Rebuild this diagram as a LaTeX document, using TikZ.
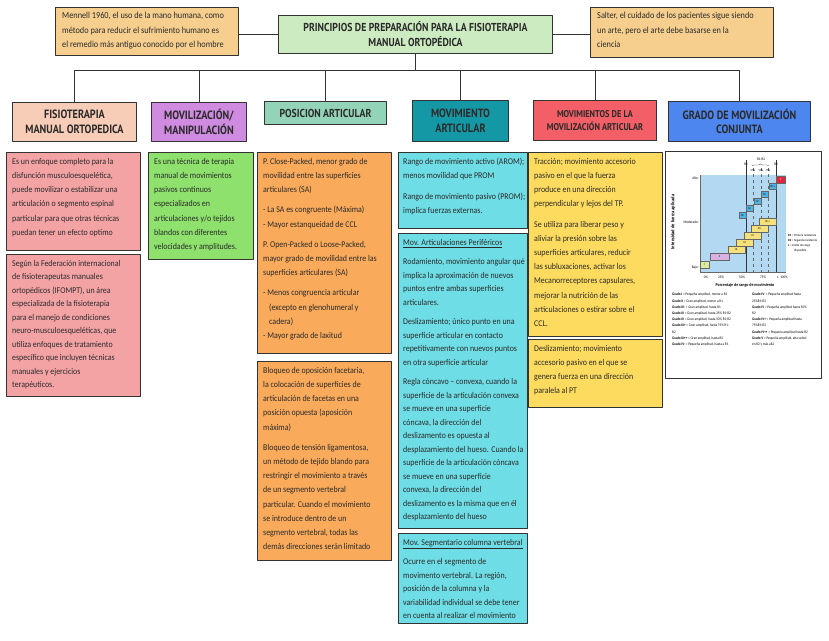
\documentclass[tikz,border=0pt]{standalone}
\usepackage{fontspec}
\setmainfont{Carlito}[FakeStretch=0.9]
\newfontfamily\headfont{PT Sans}[FakeStretch=0.85]
\usetikzlibrary{positioning,decorations.pathreplacing}
\definecolor{cQuote}{HTML}{F6CF8F}
\definecolor{cTitle}{HTML}{CDEBC0}
\definecolor{cHOne}{HTML}{F8CDB8}
\definecolor{cHTwo}{HTML}{CE8BDF}
\definecolor{cHThree}{HTML}{93D3B7}
\definecolor{cHFour}{HTML}{1598A6}
\definecolor{cHFive}{HTML}{F25F66}
\definecolor{cHSix}{HTML}{4E86F0}
\definecolor{cPink}{HTML}{F4A3A5}
\definecolor{cGreen}{HTML}{8DE16C}
\definecolor{cOrange}{HTML}{F9AA5B}
\definecolor{cCyan}{HTML}{6EDDE5}
\definecolor{cYellow}{HTML}{FDDB5E}
\definecolor{cLine}{HTML}{333333}
\definecolor{cInk}{HTML}{2A2A2A}
\definecolor{cChart}{HTML}{B3D8F2}
\definecolor{cStepBlue}{HTML}{4FB3E6}
\definecolor{cStepYel}{HTML}{F6E27A}
\definecolor{cStepRed}{HTML}{E5243B}
\definecolor{cStepLav}{HTML}{D9B2E3}
\definecolor{cStepLime}{HTML}{DCEA9E}

\begin{document}
\begin{tikzpicture}[x=1pt, y=-1pt, line join=round,
  box/.style={draw=cLine, line width=1pt, anchor=north west, inner sep=0pt},
  head/.style={box, align=center, text=cInk, font=\headfont\bfseries\fontsize{12}{14.5}\selectfont},
  txt/.style={anchor=north west, inner sep=0pt, align=left, text=cInk, font=\fontsize{8.8}{14.2}\selectfont},
  tighttxt/.style={txt, font=\fontsize{8.8}{13.5}\selectfont},
  qtxt/.style={txt, font=\fontsize{9.2}{14.5}\selectfont},
  link/.style={draw=cLine, line width=1pt},
  gbox/.style={draw=black!60, line width=0.3pt, anchor=north west, inner sep=0pt, font=\fontsize{3}{3}\selectfont},
  chartnote/.style={inner sep=0pt, align=left, text=black, font=\fontsize{3.7}{6.2}\selectfont}]
\useasboundingbox[fill=white] (0,0) rectangle (829,640);

\node[box, fill=cQuote, minimum width=183, minimum height=48] (lq) at (55,7) {};
\node[qtxt] (lqt) at ([shift={(7,5)}]lq.north west) {Mennell 1960, el uso de la mano humana, como\\método para reducir el sufrimiento humano es\\el remedio más antiguo conocido por el hombre};
\node[box, fill=cQuote, minimum width=183, minimum height=50] (rq) at (590,7) {};
\node[qtxt] (rqt) at ([shift={(7,5)}]rq.north west) {Salter, el cuidado de los pacientes sigue siendo\\un arte, pero el arte debe basarse en la\\ciencia};
\node[head, fill=cTitle, minimum width=274, minimum height=38, font=\headfont\bfseries\fontsize{11.5}{15}\selectfont] (title) at (278,15) {PRINCIPIOS DE PREPARACIÓN PARA LA FISIOTERAPIA\\MANUAL ORTOPÉDICA};

\node[head, fill=cHOne, minimum width=124, minimum height=39] (h1) at (12,102) {FISIOTERAPIA\\MANUAL ORTOPEDICA};
\node[head, fill=cHTwo, minimum width=95, minimum height=39, align=left] (h2) at (151,102) {MOVILIZACIÓN/\\MANIPULACIÓN};
\node[head, fill=cHThree, minimum width=122, minimum height=23, font=\headfont\bfseries\fontsize{11.5}{14}\selectfont] (h3) at (264,101) {POSICION ARTICULAR};
\node[head, fill=cHFour, minimum width=96, minimum height=41] (h4) at (412,100) {MOVIMIENTO\\ARTICULAR};
\node[head, fill=cHFive, minimum width=123, minimum height=40, font=\headfont\bfseries\fontsize{9.8}{13}\selectfont] (h5) at (533,100) {MOVIMIENTOS DE LA\\MOVILIZACIÓN ARTICULAR};
\node[head, fill=cHSix, minimum width=142, minimum height=40] (h6) at (668,101) {GRADO DE MOVILIZACIÓN\\CONJUNTA};

\draw[link] (lq.east |- title.west) -- (title.west);
\draw[link] (title.east) -- (title.east -| rq.west);
\foreach \h in {h1,h2,h3,h4,h5,h6}
  \draw[link] (title.south) -- ++(0,16) -| (\h.north);

\node[box, fill=cPink, minimum width=134, minimum height=98] (c1a) at (6,152) {};
\node[txt] (t1a) at ([shift={(6,6)}]c1a.north west) {Es un enfoque completo para la\\disfunción musculoesquelética,\\puede movilizar o estabilizar una\\articulación o segmento espinal\\particular para que otras técnicas\\puedan tener un efecto optimo};
\node[box, fill=cPink, minimum width=134, minimum height=142] (c1b) at (6,254) {};
\node[tighttxt] (t1b) at ([shift={(6,6)}]c1b.north west) {Según la Federación internacional\\de fisioterapeutas manuales\\ortopédicos (IFOMPT), un área\\especializada de la fisioterapia\\para el manejo de condiciones\\neuro-musculoesqueléticas, que\\utiliza enfoques de tratamiento\\específico que incluyen técnicas\\manuales y ejercicios\\terapéuticos.};

\node[box, fill=cGreen, minimum width=105, minimum height=107] (c2) at (148,152) {};
\node[txt] (t2) at ([shift={(6,6)}]c2.north west) {Es una técnica de terapia\\manual de movimientos\\pasivos continuos\\especializados en\\articulaciones y/o tejidos\\blandos con diferentes\\velocidades y amplitudes.};

\node[box, fill=cOrange, minimum width=134, minimum height=201] (c3a) at (257,152) {};
\node[txt] (t3a) at ([shift={(6,6)}]c3a.north west) {P. Close-Packed, menor grado de\\movilidad entre las superficies\\articulares (SA)\\[6pt]
- La SA es congruente (Máxima)\\- Mayor estanqueidad de CCL\\[6pt]
P. Open-Packed o Loose-Packed,\\mayor grado de movilidad entre las\\superficies articulares (SA)\\[6pt]
- Menos congruencia articular\\\hspace*{6pt}(excepto en glenohumeral y\\\hspace*{6pt}cadera)\\- Mayor grado de laxitud};
\node[box, fill=cOrange, minimum width=134, minimum height=199] (c3b) at (257,361) {};
\node[txt] (t3b) at ([shift={(6,6)}]c3b.north west) {Bloqueo de oposición facetaria,\\la colocación de superficies de\\articulación de facetas en una\\posición opuesta (aposición\\máxima)\\[6pt]
Bloqueo de tensión ligamentosa,\\un método de tejido blando para\\restringir el movimiento a través\\de un segmento vertebral\\particular. Cuando el movimiento\\se introduce dentro de un\\segmento vertebral, todas las\\demás direcciones serán limitado};

\node[box, fill=cCyan, minimum width=129, minimum height=76] (c4a) at (398,152) {};
\node[txt] (t4a) at ([shift={(5,6)}]c4a.north west) {Rango de movimiento activo (AROM);\\menos movilidad que PROM\\[6pt]
Rango de movimiento pasivo (PROM);\\implica fuerzas externas.};
\node[box, fill=cCyan, minimum width=129, minimum height=295] (c4b) at (398,233) {};
\node[tighttxt] (t4b) at ([shift={(5,6)}]c4b.north west) {\underline{Mov. Articulaciones Periféricos}\\[6pt]
Rodamiento, movimiento angular qué\\implica la aproximación de nuevos\\puntos entre ambas superficies\\articulares.\\[6pt]
Deslizamiento; único punto en una\\superficie articular en contacto\\repetitivamente con nuevos puntos\\en otra superficie articular\\[6pt]
Regla cóncavo – convexa, cuando la\\superficie de la articulación convexa\\se mueve en una superficie\\cóncava, la dirección del\\deslizamento es opuesta al\\desplazamiento del hueso. Cuando la\\superficie de la articulación cóncava\\se mueve en una superficie\\convexa, la dirección del\\deslizamento es la misma que en él\\desplazamiento del hueso};
\node[box, fill=cCyan, minimum width=129, minimum height=90] (c4c) at (398,533) {};
\node[tighttxt] (t4c) at ([shift={(5,6)}]c4c.north west) {\underline{Mov. Segmentario columna vertebral}\\[6pt]
Ocurre en el segmento de\\movimento vertebral. La región,\\posición de la columna y la\\variabilidad individual se debe tener\\en cuenta al realizar el movimiento};

\node[box, fill=cYellow, minimum width=134, minimum height=184] (c5a) at (528,152) {};
\node[txt] (t5a) at ([shift={(6,6)}]c5a.north west) {Tracción; movimiento accesorio\\pasivo en el que la fuerza\\produce en una dirección\\perpendicular y lejos del TP.\\[6pt]
Se utiliza para liberar peso y\\aliviar la presión sobre las\\superficies articulares, reducir\\las subluxaciones, activar los\\Mecanorreceptores capsulares,\\mejorar la nutrición de las\\articulaciones o estirar sobre el\\CCL.};
\node[box, fill=cYellow, minimum width=134, minimum height=68] (c5b) at (528,339) {};
\node[txt] (t5b) at ([shift={(6,6)}]c5b.north west) {Deslizamiento; movimiento\\accesorio pasivo en el que se\\genera fuerza en una dirección\\paralela al PT};

\node[box, fill=white, minimum width=156, minimum height=227] (c6) at (665,151) {};
\fill[cChart] (700,175) rectangle (786,272);
\draw[black!60, line width=0.3pt] (700,175) -- (700,272) -- (786,272);
\draw[black!80, line width=0.7pt] (746,160) -- (746,272);
\draw[black!80, line width=0.7pt] (776,160) -- (776,272);
\foreach \x in {753,761,768}
  \draw[black!60, line width=0.3pt, dashed] (\x,168) -- (\x,272);
\draw[black!70, line width=0.3pt, decorate, decoration={brace, amplitude=2pt}] (752,166) -- (769,166);
\node[chartnote] (r1) at (746,164) {R1};
\node[chartnote] (r2) at (776,164) {R2};
\node[chartnote] (r12) at (761,159) {R1-R2};
\foreach \x/\t in {753/25\%,761/50\%,768/75\%}
  \node[chartnote, font=\fontsize{3}{3}\selectfont] at (\x,170) {\t};
\foreach \y/\t in {178/Alto,222/Moderado,268/Bajo}
  \node[chartnote, anchor=east] at (699,\y) {\t-};
\node[chartnote, rotate=90, font=\bfseries\fontsize{5}{5}\selectfont] (yax) at (673,222) {Intensidad de fuerza aplicada};
\foreach \x/\t in {706/0\%,721/25\%,742/50\%,763/75\%,778/L,784/100\%}
  \node[chartnote] at (\x,277) {\t};
\node[chartnote, font=\bfseries\fontsize{4.4}{5}\selectfont] (xax) at (745,285) {Porcentaje de rango de movimiento};

\node[gbox, fill=cStepLime, minimum width=9, minimum height=7] (gI) at (700,261) {I};
\node[gbox, fill=cStepLav, minimum width=19, minimum height=7] (gII) at (710,253) {II};
\foreach \xa/\ya/\t in {728/246/III-,736/239/III,744/232/III,751/225/III+,759/218/III++}
  \node[gbox, fill=cStepYel, minimum width=17, minimum height=6.5] at (\xa,\ya) {\t};
\foreach \xa/\ya/\t in {739/212/IV-,746/205/IV-,754/198/IV,761/191/IV+,769/183/IV++}
  \node[gbox, fill=cStepBlue, minimum width=7, minimum height=6] at (\xa,\ya) {\t};
\node[gbox, fill=cStepRed, text=white, minimum width=9, minimum height=7] (gV) at (776,176) {V};

\node[chartnote, anchor=north west, font=\fontsize{3.2}{5}\selectfont] (leg) at (788,234) {\textbf{R1} = Primera resistencia\\\textbf{R2} = Segunda resistencia\\\textbf{L} = Límite de rango\\\hspace*{6pt}disponible};
\node[chartnote, anchor=north west] (legl) at (672,293) {\textbf{Grado I} = Pequeña amplitud, menor a R1\\\textbf{Grado II} = Gran amplitud, menor a R1\\\textbf{Grado III-} = Gran amplitud, hasta R1\\\textbf{Grado III} = Gran amplitud, hasta 25\% R1-R2\\\textbf{Grado III} = Gran amplitud, hasta 50\% R1-R2\\\textbf{Grado III+} = Gran amplitud, hasta 75\% R1-\\R2\\\textbf{Grado III++} = Gran amplitud, hasta R2\\\textbf{Grado IV-} = Pequeña amplitud, hasta a R1};
\node[chartnote, anchor=north west] (legr) at (752,293) {\textbf{Grado IV-} = Pequeña amplitud hasta\\25\%R1-R2\\\textbf{Grado IV} = Pequeña amplitud hasta 50\%\\R2\\\textbf{Grado IV+} = Pequeña amplitud hasta\\75\%R1-R2\\\textbf{Grado IV++} = Pequeña amplitud hasta R2\\\textbf{Grado V} = Pequeña amplitud, alta veloci-\\en R2 y más allá};
\end{tikzpicture}
\end{document}
